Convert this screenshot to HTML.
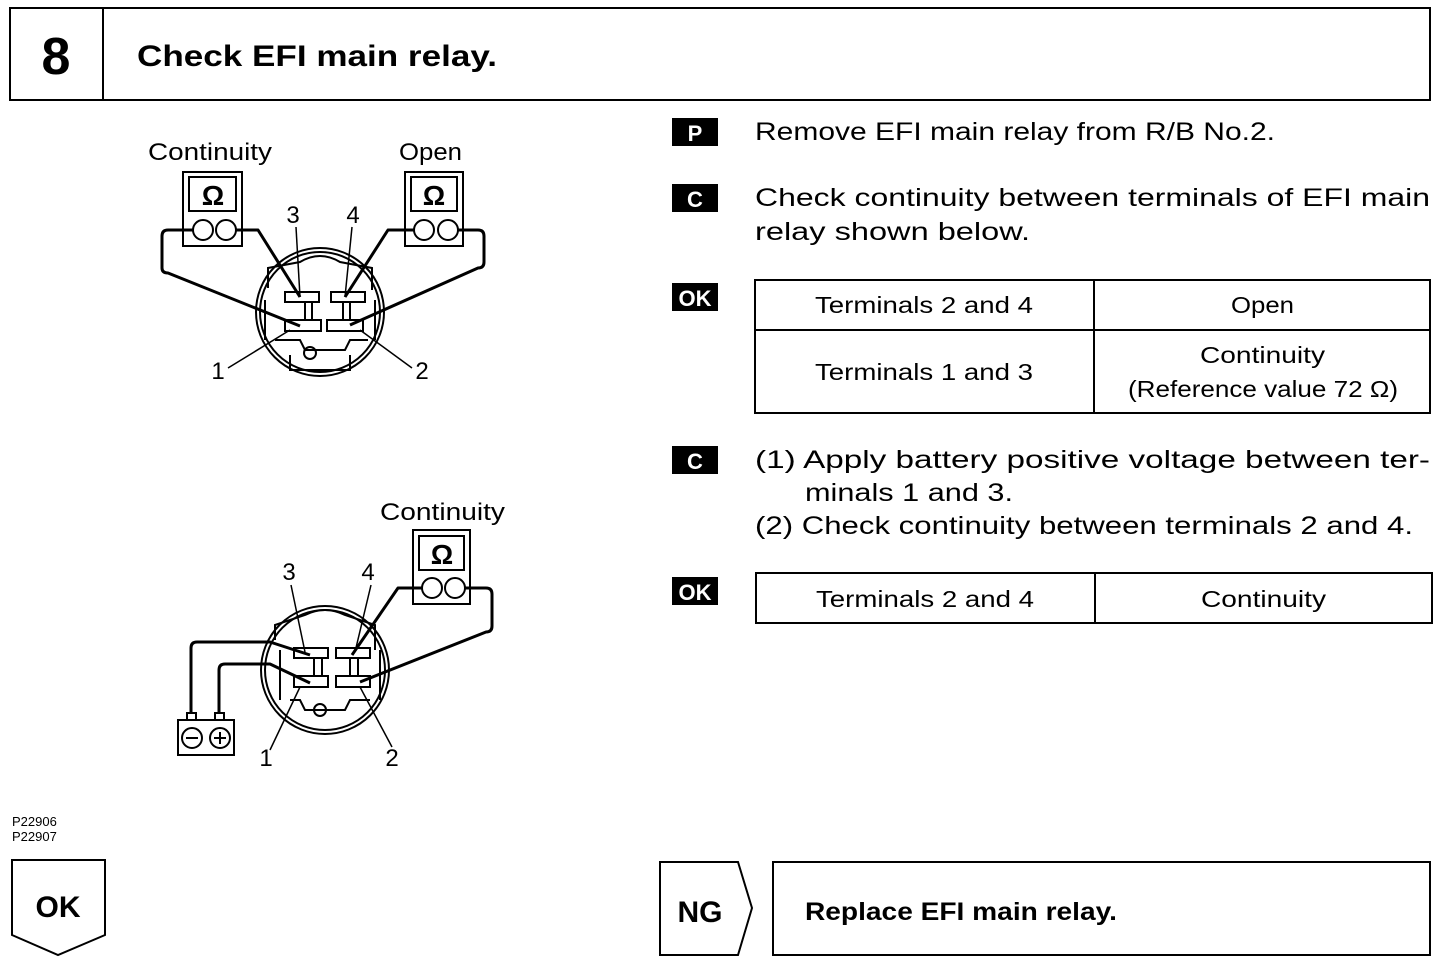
<!DOCTYPE html>
<html><head><meta charset="utf-8"><style>
html,body{margin:0;padding:0;background:#fff;}
svg{display:block;font-family:"Liberation Sans",sans-serif;}
</style></head><body>
<svg width="1440" height="964" viewBox="0 0 1440 964" xmlns="http://www.w3.org/2000/svg">
<g fill="none" stroke="#000" stroke-width="2">
<rect x="10" y="8" width="1420" height="92"/>
<line x1="103" y1="8" x2="103" y2="100"/>
</g>
<text x="56" y="74" font-size="52" font-weight="bold" text-anchor="middle">8</text>
<text x="137" y="66" font-size="30" font-weight="bold" textLength="360" lengthAdjust="spacingAndGlyphs">Check EFI main relay.</text>

<!-- Top diagram -->
<g font-size="24">
<text x="148" y="160" textLength="124" lengthAdjust="spacingAndGlyphs">Continuity</text>
<text x="399" y="160" textLength="63" lengthAdjust="spacingAndGlyphs">Open</text>
<text x="293" y="223" text-anchor="middle">3</text>
<text x="353" y="223" text-anchor="middle">4</text>
<text x="218" y="379" text-anchor="middle">1</text>
<text x="422" y="379" text-anchor="middle">2</text>
</g>
<g fill="none" stroke="#000" stroke-width="2">
<rect x="183" y="172" width="59" height="74"/>
<rect x="189" y="177" width="47" height="34"/>
<circle cx="203" cy="230" r="10"/><circle cx="226" cy="230" r="10"/>
<rect x="405" y="172" width="58" height="74"/>
<rect x="411" y="177" width="46" height="34"/>
<circle cx="424" cy="230" r="10"/><circle cx="448" cy="230" r="10"/>
<circle cx="320" cy="312" r="64"/>
<circle cx="320" cy="312" r="60"/>
<path d="M268 288 L268 268 L300 262 Q320 250 340 262 L372 268 L372 290"/>
<path d="M265 300 L265 340 M375 300 L375 340"/>
<path d="M275 340 L300 340 L305 350 L345 350 L350 340 L368 340"/>
<path d="M290 355 L290 370 L350 370 L350 355"/>
<circle cx="310" cy="353" r="6"/>
<rect x="285" y="292" width="34" height="10"/>
<rect x="331" y="292" width="34" height="10"/>
<rect x="285" y="320" width="36" height="11"/>
<rect x="327" y="320" width="36" height="11"/>
<path d="M305 302 L305 320 M312 302 L312 320 M343 302 L343 320 M350 302 L350 320"/>
</g>
<g fill="none" stroke="#000" stroke-width="3" stroke-linejoin="round">
<path d="M193 230 L168 230 Q162 230 162 236 L162 268 Q162 273 168 273 L300 326"/>
<path d="M236 230 L258 230 L300 297"/>
<path d="M414 230 L388 230 L345 297"/>
<path d="M458 230 L478 230 Q484 230 484 236 L484 262 Q484 268 478 268 L350 325"/>
</g>
<g stroke="#000" stroke-width="1.5">
<line x1="296" y1="227" x2="300" y2="297"/>
<line x1="352" y1="227" x2="345" y2="297"/>
<line x1="228" y1="368" x2="290" y2="330"/>
<line x1="412" y1="368" x2="360" y2="330"/>
</g>
<g font-size="28" font-weight="bold" text-anchor="middle"><text x="213" y="205">Ω</text><text x="434" y="205">Ω</text></g>

<!-- Bottom diagram -->
<g font-size="24">
<text x="380" y="520" textLength="125" lengthAdjust="spacingAndGlyphs">Continuity</text>
<text x="289" y="580" text-anchor="middle">3</text>
<text x="368" y="580" text-anchor="middle">4</text>
<text x="266" y="766" text-anchor="middle">1</text>
<text x="392" y="766" text-anchor="middle">2</text>
</g>
<g fill="none" stroke="#000" stroke-width="2">
<rect x="413" y="530" width="57" height="74"/>
<rect x="419" y="536" width="45" height="34"/>
<circle cx="432" cy="588" r="10"/><circle cx="455" cy="588" r="10"/>
<circle cx="325" cy="670" r="64"/>
<circle cx="325" cy="670" r="60"/>
<path d="M275 640 L275 625 L305 615 Q325 605 345 615 L375 625 L375 650"/>
<path d="M280 650 L280 700 M380 650 L380 700"/>
<path d="M290 700 L300 700 L305 710 L345 710 L350 700 L370 700"/>
<circle cx="320" cy="710" r="6"/>
<rect x="294" y="648" width="34" height="10"/>
<rect x="336" y="648" width="34" height="10"/>
<rect x="294" y="676" width="34" height="11"/>
<rect x="336" y="676" width="34" height="11"/>
<path d="M314 658 L314 676 M322 658 L322 676 M350 658 L350 676 M358 658 L358 676"/>
<rect x="178" y="720" width="56" height="35"/>
<circle cx="192" cy="738" r="10"/><circle cx="220" cy="738" r="10"/>
<rect x="187" y="713" width="9" height="7"/><rect x="215" y="713" width="9" height="7"/>
</g>
<g stroke="#000" stroke-width="2"><line x1="186" y1="738" x2="198" y2="738"/><line x1="214" y1="738" x2="226" y2="738"/><line x1="220" y1="732" x2="220" y2="744"/></g>
<g fill="none" stroke="#000" stroke-width="3" stroke-linejoin="round">
<path d="M191 713 L191 648 Q191 642 197 642 L270 642 L310 655"/>
<path d="M219 713 L219 670 Q219 664 225 664 L270 664 L310 683"/>
<path d="M422 588 L398 588 L352 655"/>
<path d="M465 588 L486 588 Q492 588 492 594 L492 626 Q492 632 486 632 L360 682"/>
</g>
<g stroke="#000" stroke-width="1.5">
<line x1="291" y1="585" x2="305" y2="652"/>
<line x1="371" y1="585" x2="355" y2="652"/>
<line x1="270" y1="750" x2="300" y2="687"/>
<line x1="392" y1="747" x2="360" y2="687"/>
</g>
<text x="442" y="564" font-size="28" font-weight="bold" text-anchor="middle">Ω</text>

<text x="12" y="826" font-size="13">P22906</text>
<text x="12" y="841" font-size="13">P22907</text>

<!-- Right side -->
<g font-size="25">
<rect x="672" y="118" width="46" height="28" fill="#000"/>
<text x="695" y="141" fill="#fff" font-weight="bold" text-anchor="middle" font-size="22">P</text>
<text x="755" y="140" textLength="520" lengthAdjust="spacingAndGlyphs">Remove EFI main relay from R/B No.2.</text>
<rect x="672" y="184" width="46" height="28" fill="#000"/>
<text x="695" y="207" fill="#fff" font-weight="bold" text-anchor="middle" font-size="22">C</text>
<text x="755" y="206" textLength="675" lengthAdjust="spacingAndGlyphs">Check continuity between terminals of EFI main</text>
<text x="755" y="240" textLength="275" lengthAdjust="spacingAndGlyphs">relay shown below.</text>
<rect x="672" y="283" width="46" height="28" fill="#000"/>
<text x="695" y="306" fill="#fff" font-weight="bold" text-anchor="middle" font-size="22">OK</text>
<rect x="672" y="446" width="46" height="28" fill="#000"/>
<text x="695" y="469" fill="#fff" font-weight="bold" text-anchor="middle" font-size="22">C</text>
<text x="755" y="468" textLength="675" lengthAdjust="spacingAndGlyphs">(1) Apply battery positive voltage between ter-</text>
<text x="805" y="501" textLength="208" lengthAdjust="spacingAndGlyphs">minals 1 and 3.</text>
<text x="755" y="534" textLength="658" lengthAdjust="spacingAndGlyphs">(2) Check continuity between terminals 2 and 4.</text>
<rect x="672" y="577" width="46" height="28" fill="#000"/>
<text x="695" y="600" fill="#fff" font-weight="bold" text-anchor="middle" font-size="22">OK</text>
</g>
<g fill="none" stroke="#000" stroke-width="2">
<rect x="755" y="280" width="675" height="133"/>
<line x1="1094" y1="280" x2="1094" y2="413"/>
<line x1="755" y1="330" x2="1430" y2="330"/>
<rect x="756" y="573" width="676" height="50"/>
<line x1="1095" y1="573" x2="1095" y2="623"/>
</g>
<g font-size="23">
<text x="815" y="313" textLength="218" lengthAdjust="spacingAndGlyphs">Terminals 2 and 4</text>
<text x="1231" y="313" textLength="63" lengthAdjust="spacingAndGlyphs">Open</text>
<text x="815" y="380" textLength="218" lengthAdjust="spacingAndGlyphs">Terminals 1 and 3</text>
<text x="1200" y="363" textLength="125" lengthAdjust="spacingAndGlyphs">Continuity</text>
<text x="1128" y="397" textLength="270" lengthAdjust="spacingAndGlyphs">(Reference value 72 Ω)</text>
<text x="816" y="607" textLength="218" lengthAdjust="spacingAndGlyphs">Terminals 2 and 4</text>
<text x="1201" y="607" textLength="125" lengthAdjust="spacingAndGlyphs">Continuity</text>
</g>

<!-- Bottom -->
<g fill="none" stroke="#000" stroke-width="2">
<path d="M12 860 L105 860 L105 935 L58 955 L12 935 Z"/>
<path d="M660 862 L738 862 L752 908 L738 955 L660 955 Z"/>
<rect x="773" y="862" width="657" height="93"/>
</g>
<text x="58" y="917" font-size="30" font-weight="bold" text-anchor="middle">OK</text>
<text x="700" y="922" font-size="30" font-weight="bold" text-anchor="middle">NG</text>
<text x="805" y="920" font-size="25" font-weight="bold" textLength="312" lengthAdjust="spacingAndGlyphs">Replace EFI main relay.</text>
</svg>
</body></html>
